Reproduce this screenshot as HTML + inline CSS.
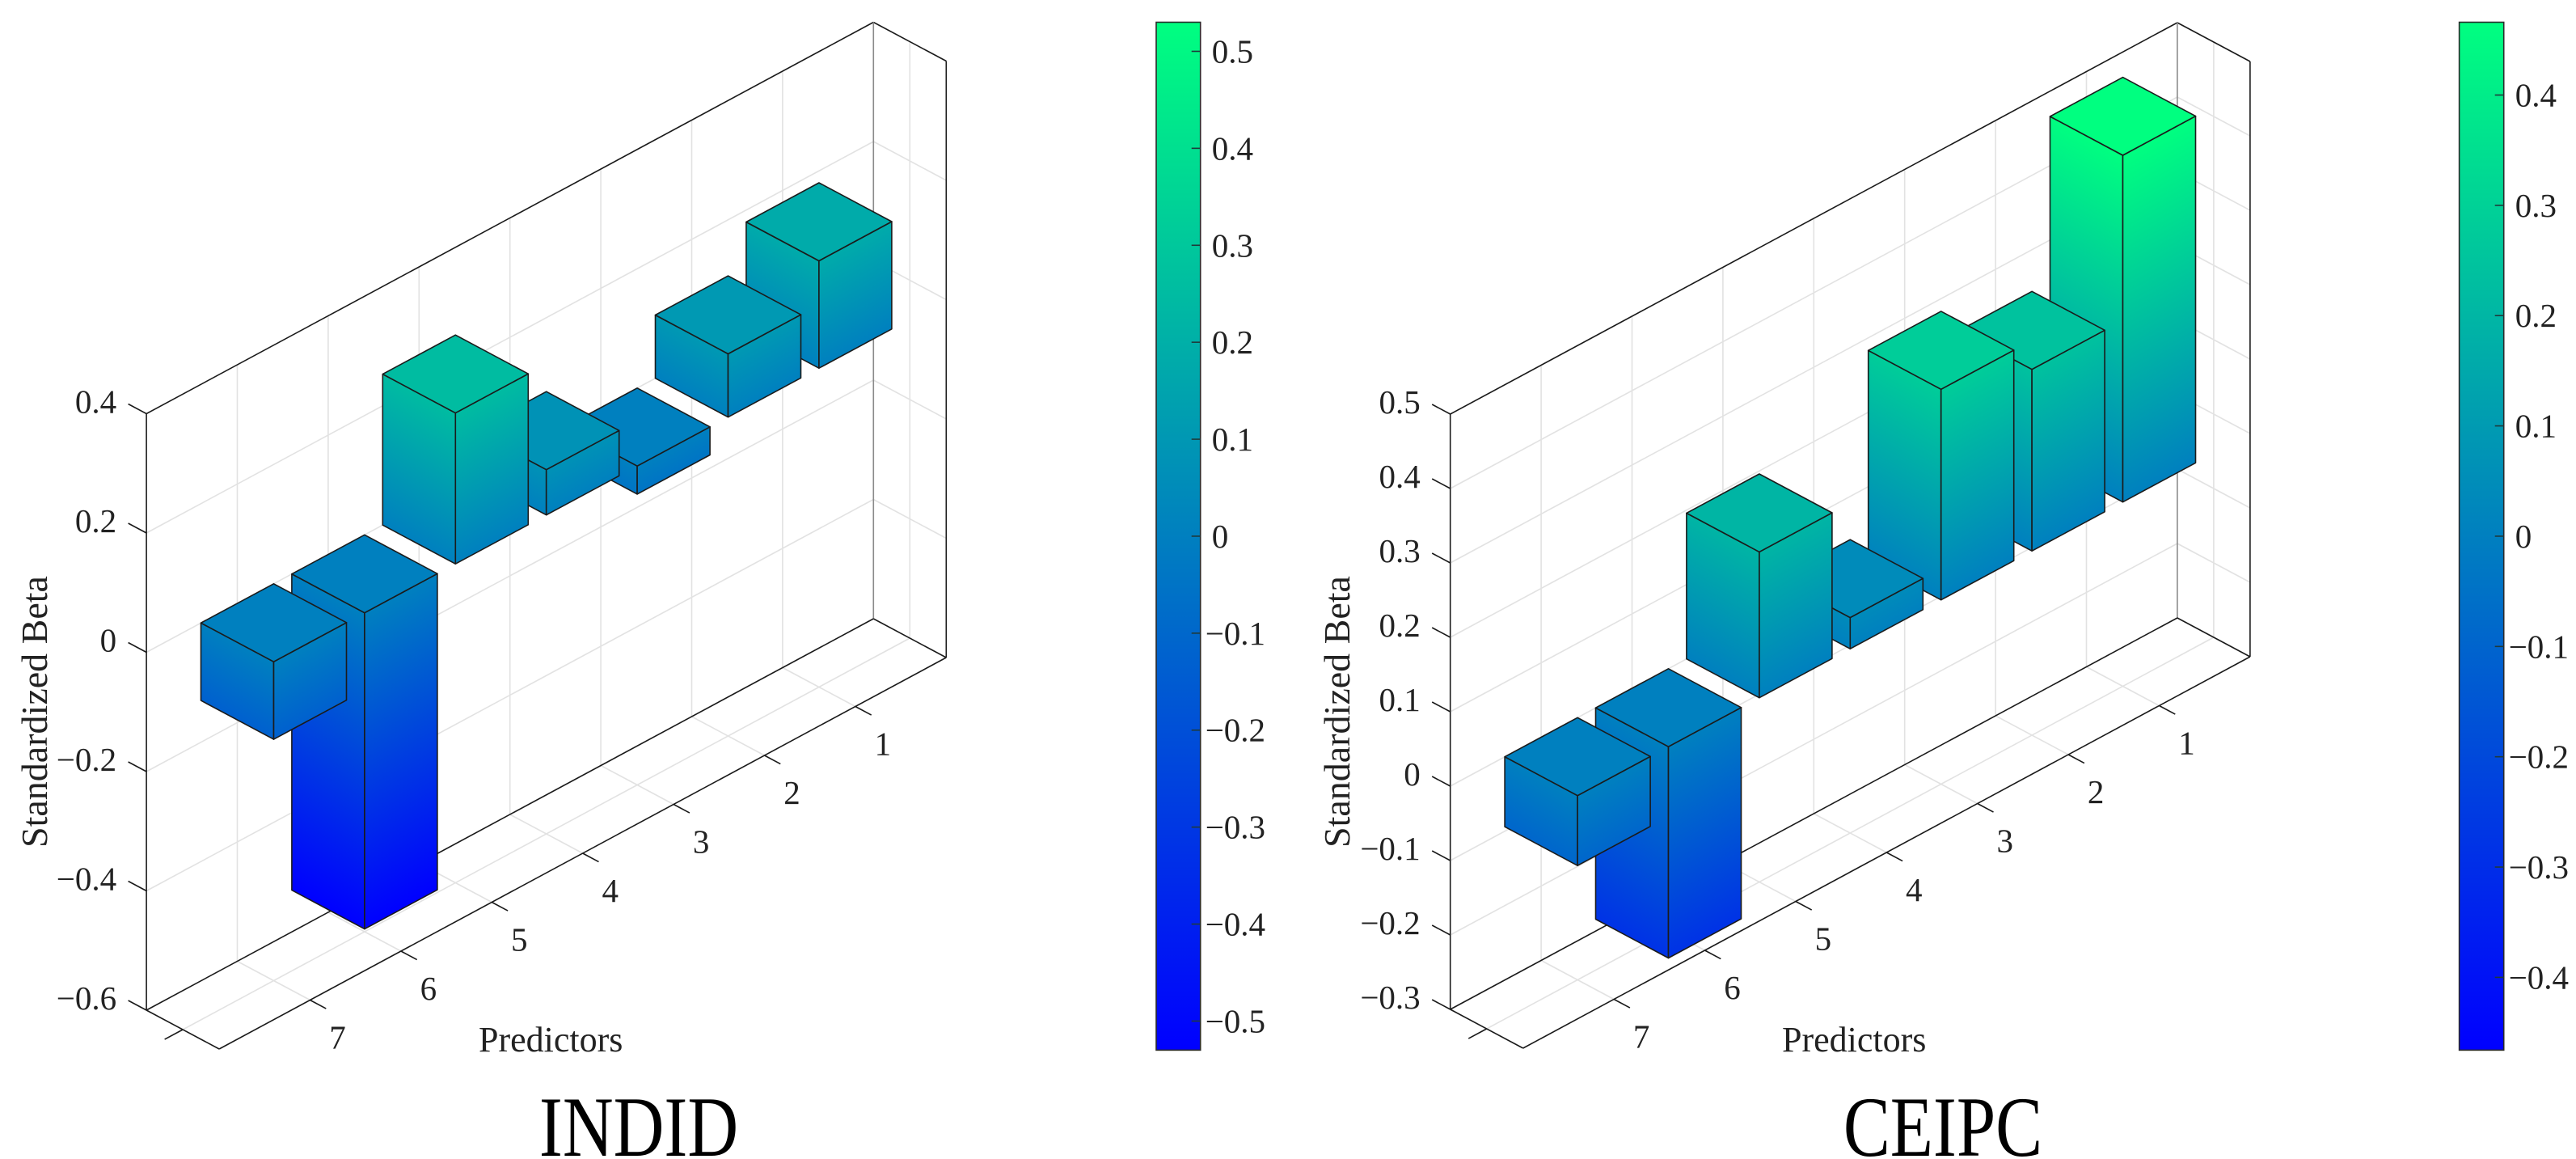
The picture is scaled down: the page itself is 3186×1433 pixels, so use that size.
<!DOCTYPE html>
<html><head><meta charset="utf-8"><title>Standardized Beta 3D bars</title>
<style>html,body{margin:0;padding:0;background:#fff}svg{display:block}</style></head>
<body>
<svg id="fig" xmlns="http://www.w3.org/2000/svg" width="3186" height="1433" viewBox="0 0 3186 1433" font-family="'Liberation Serif', serif">
<rect width="3186" height="1433" fill="#fff"/>
<defs id="defs"></defs>
</svg>
<script>
// ---- data ----
const predictors = [1, 2, 3, 4, 5, 6, 7];
const indidBeta = [0.18, 0.106, -0.047, 0.076, 0.253, -0.53, -0.13];
const ceipcBeta = [0.466, 0.244, 0.283, 0.042, 0.196, -0.284, -0.094];
const indidZTicks = [-0.6, -0.4, -0.2, 0, 0.2, 0.4];
const ceipcZTicks = [-0.3, -0.2, -0.1, 0, 0.1, 0.2, 0.3, 0.4, 0.5];
const indidCbTicks = [-0.5, -0.4, -0.3, -0.2, -0.1, 0, 0.1, 0.2, 0.3, 0.4, 0.5];
const ceipcCbTicks = [-0.4, -0.3, -0.2, -0.1, 0, 0.1, 0.2, 0.3, 0.4];
const indidTitle = "INDID";
const ceipcTitle = "CEIPC";

const NS = "http://www.w3.org/2000/svg";
const svg = document.getElementById('fig');
const defs = document.getElementById('defs');
let gid = 0;
function el(tag, attrs, parent) {
  const e = document.createElementNS(NS, tag);
  for (const k in attrs) e.setAttribute(k, attrs[k]);
  (parent || svg).appendChild(e);
  return e;
}
function fmt(v) {
  const s = Math.abs(v) < 1e-9 ? "0" : String(Math.round(v * 10) / 10);
  return s.replace('-', '\u2212');
}
function winter(z, cmax) {
  let t = (z + cmax) / (2 * cmax); t = Math.max(0, Math.min(1, t));
  return `rgb(0,${Math.round(255 * t)},${Math.round(255 * (1 - 0.5 * t))})`;
}

function drawChart(cfg, values, zTicks, cbTicks, title, key) {
  const g = el('g', {});
  
  
  const P = (u, v, z) => [cfg.ox + cfg.ax * u + cfg.dx * v, cfg.oy + cfg.ay * u + cfg.dy * v - cfg.zs * z];
  const line = (a, b, stroke, w, name, parent) => {
    const l = el('line', {x1: a[0], y1: a[1], x2: b[0], y2: b[1], stroke: stroke, 'stroke-width': w}, parent || g);
    
    
    return l;
  };
  const zmin = cfg.zmin, zmax = cfg.zmax, U = 8;
  const grid = el('g', {}, g);
  
  
  const gc = '#e2e2e2', gw = 1.6;
  // back wall grid
  for (let u = 1; u < U; u++) line(P(u, 0, zmin), P(u, 0, zmax), gc, gw, 'grid-back-vertical', grid);
  zTicks.forEach(z => { if (z > zmin + 1e-9 && z < zmax - 1e-9) line(P(0, 0, z), P(U, 0, z), gc, gw, 'grid-back-horizontal', grid); });
  // floor grid
  for (let u = 1; u < U; u++) line(P(u, 0, zmin), P(u, 1, zmin), gc, gw, 'grid-floor', grid);
  line(P(0, 0.5, zmin), P(U, 0.5, zmin), gc, gw, 'grid-floor', grid);
  // right wall grid
  zTicks.forEach(z => { if (z > zmin + 1e-9 && z < zmax - 1e-9) line(P(U, 0, z), P(U, 1, z), gc, gw, 'grid-side', grid); });
  line(P(U, 0.5, zmin), P(U, 0.5, zmax), gc, gw, 'grid-side', grid);

  // box lines
  const bc = '#1a1a1a', bw = 1.6;
  line(P(0, 0, zmin), P(0, 0, zmax), bc, bw, key + '-z-axis');
  line(P(0, 0, zmax), P(U, 0, zmax), bc, bw, 'box-edge');
  line(P(U, 0, zmax), P(U, 1, zmax), bc, bw, 'box-edge');
  line(P(U, 1, zmax), P(U, 1, zmin), bc, bw, 'box-edge');
  line(P(U, 0, zmax), P(U, 0, zmin), '#8a8a8a', bw, 'box-edge');
  line(P(0, 0, zmin), P(U, 0, zmin), bc, bw, 'box-edge');
  line(P(0, 0, zmin), P(0, 1, zmin), bc, bw, key + '-y-axis');
  line(P(0, 1, zmin), P(U, 1, zmin), bc, bw, key + '-x-axis');
  line(P(U, 0, zmin), P(U, 1, zmin), bc, bw, 'box-edge');

  // z ticks + labels
  zTicks.forEach(z => {
    const a = P(0, 0, z);
    line(a, [a[0] - 0.25 * cfg.dx, a[1] - 0.25 * cfg.dy], bc, bw, 'z-tick');
    const t = el('text', {x: a[0] - 37, y: a[1] - 15, 'font-size': 41, 'text-anchor': 'end', 'dominant-baseline': 'central', fill: '#222'}, g);
    
    
    t.textContent = fmt(z);
  });
  // depth tick
  const dt = P(0, 0.5, zmin);
  line(dt, [dt[0] - 0.2 * cfg.ax, dt[1] - 0.2 * cfg.ay], bc, bw, 'y-tick');
  // x ticks + labels
  predictors.forEach(p => {
    const a = P(8 - p, 1, zmin);
    line(a, [a[0] + 0.22 * cfg.dx, a[1] + 0.22 * cfg.dy], bc, bw, 'x-tick');
    const t = el('text', {x: a[0] + 34, y: a[1] + 46, 'font-size': 41, 'text-anchor': 'middle', 'dominant-baseline': 'central', fill: '#222'}, g);
    
    
    t.textContent = String(p);
  });

  // bars (back to front: predictor 1 first)
  const cmax = Math.max(...values.map(Math.abs));
  const barsG = el('g', {}, g);
  
  
  const grad = (S, e, h, ztop, zbot) => {
    const w = [0, h];
    const k = (w[0] * e[0] + w[1] * e[1]) / (e[0] * e[0] + e[1] * e[1]);
    const E = [S[0] + w[0] - k * e[0], S[1] + w[1] - k * e[1]];
    const id = 'g' + (gid++);
    const lg = el('linearGradient', {id: id, gradientUnits: 'userSpaceOnUse', x1: S[0], y1: S[1], x2: E[0], y2: E[1]}, defs);
    el('stop', {offset: 0, 'stop-color': winter(ztop, cmax)}, lg);
    el('stop', {offset: 1, 'stop-color': winter(zbot, cmax)}, lg);
    return 'url(#' + id + ')';
  };
  const poly = (pts, fill, name, parent) => {
    const p = el('polygon', {points: pts.map(q => q[0].toFixed(1) + ',' + q[1].toFixed(1)).join(' '), fill: fill, stroke: '#1b1b1b', 'stroke-width': 1.6, 'stroke-linejoin': 'round'}, parent);
    
    
  };
  predictors.forEach((p, i) => {
    const b = values[i];
    const uc = 8 - p, u0 = uc - 0.4, u1 = uc + 0.4;
    const zt = Math.max(0, b), zb = Math.min(0, b);
    const h = (zt - zb) * cfg.zs;
    const bg = el('g', {}, barsG);
    
    
    // left face
    poly([P(u0, 0, zt), P(u0, 1, zt), P(u0, 1, zb), P(u0, 0, zb)],
      grad(P(u0, 0, zt), [cfg.dx, cfg.dy], h, zt, zb), 'bar-side-face', bg);
    // front face
    poly([P(u0, 1, zt), P(u1, 1, zt), P(u1, 1, zb), P(u0, 1, zb)],
      grad(P(u0, 1, zt), [cfg.ax, cfg.ay], h, zt, zb), 'bar-front-face', bg);
    // top face
    poly([P(u0, 0, zt), P(u1, 0, zt), P(u1, 1, zt), P(u0, 1, zt)], winter(zt, cmax), 'bar-top-face', bg);
  });

  // axis labels
  const yl = el('text', {transform: `translate(${cfg.ylx},880) rotate(-90)`, 'font-size': 46, 'text-anchor': 'middle', fill: '#222'}, g);
  
  
  yl.textContent = 'Standardized Beta';
  const xl = el('text', {x: cfg.xlx, y: 1300, 'font-size': 44, fill: '#222'}, g);
  
  
  xl.textContent = 'Predictors';
  const tt = el('text', {transform: `translate(${cfg.tx},1429) scale(0.82,1)`, 'font-size': 106, 'text-anchor': 'middle', fill: '#000'}, g);
  
  
  tt.textContent = title;

  // colorbar
  const cb = cfg.cb;
  const cbg = el('g', {}, g);
  
  
  const cid = 'cb' + (gid++);
  const lg = el('linearGradient', {id: cid, x1: 0, y1: 0, x2: 0, y2: 1}, defs);
  el('stop', {offset: 0, 'stop-color': winter(cmax, cmax)}, lg);
  el('stop', {offset: 1, 'stop-color': winter(-cmax, cmax)}, lg);
  const r = el('rect', {x: cb.x1, y: cb.y1, width: cb.x2 - cb.x1, height: cb.y2 - cb.y1, fill: `url(#${cid})`, stroke: '#2a2a2a', 'stroke-width': 1.6}, cbg);
  
  
  cbTicks.forEach(v => {
    const y = cb.y1 + (cmax - v) / (2 * cmax) * (cb.y2 - cb.y1);
    line([cb.x2 - 11, y], [cb.x2, y], '#1f3a3a', 1.6, 'colorbar-tick', cbg);
    const t = el('text', {x: cb.x2 + (v < 0 ? 6 : 14), y: y, 'font-size': 41, 'dominant-baseline': 'central', fill: '#222'}, cbg);
    
    
    t.textContent = fmt(v);
  });
}

drawChart({ox: 181.1, oy: 806.5, ax: 112.4, ay: -60.5, dx: 90, dy: 48, zs: 737.5, zmin: -0.6, zmax: 0.4,
  ylx: 58, xlx: 592, tx: 790, cb: {x1: 1430, x2: 1484.7, y1: 27.5, y2: 1298.4}},
  indidBeta, indidZTicks, indidCbTicks, indidTitle, 'indid');
drawChart({ox: 1793.7, oy: 972, ax: 112.4, ay: -60.5, dx: 90, dy: 48, zs: 920, zmin: -0.3, zmax: 0.5,
  ylx: 1669, xlx: 2204, tx: 2403, cb: {x1: 3041.6, x2: 3096.7, y1: 27.5, y2: 1298.4}},
  ceipcBeta, ceipcZTicks, ceipcCbTicks, ceipcTitle, 'ceipc');
</script>
</body></html>
